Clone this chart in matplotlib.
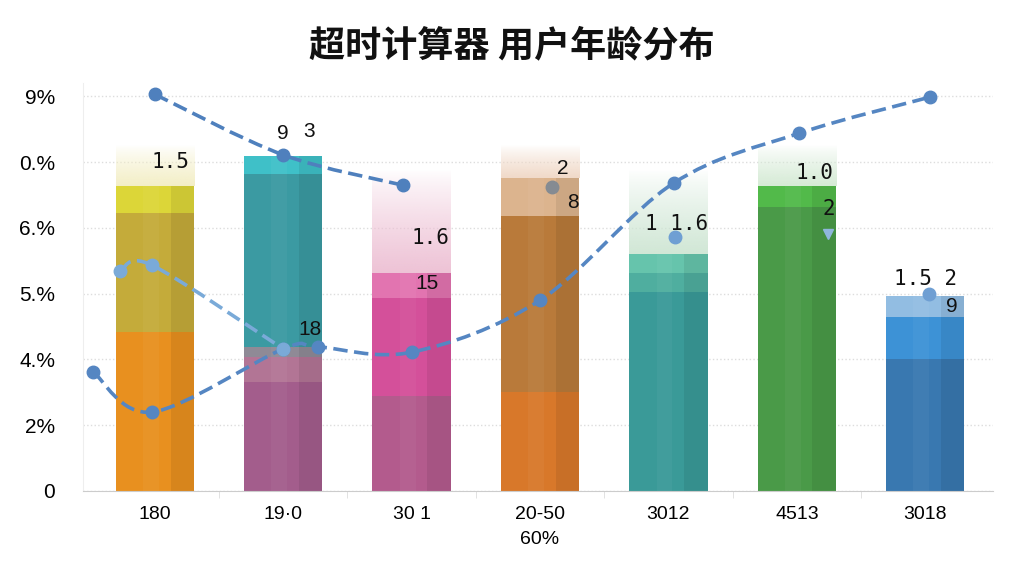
import numpy as np
import matplotlib
matplotlib.use("Agg")
import matplotlib.pyplot as plt
from matplotlib.path import Path
from matplotlib.patches import PathPatch
from matplotlib.colors import to_rgb

plt.rcParams['font.family'] = ['Noto Sans CJK SC', 'DejaVu Sans']

# categories and tick labels
categories = ['180', '19·0', '30 1', '20-50\n60%', '3012', '4513', '3018']
ytick_labels = ['0', '2%', '4.%', '5.%', '6.%', '0.%', '9%']

# stacked segment heights per bar (bottom -> top)
segments = [
    [2.42, 1.81, 0.41],
    [1.66, 0.38, 0.15, 2.63, 0.27],
    [1.45, 1.48, 0.38],
    [1.50, 2.68, 0.58],
    [3.02, 0.30, 0.28],
    [4.32, 0.32],
    [2.00, 0.64, 0.32],
]
# top of the faded cap above each bar
fade_tops = [5.26, 5.09, 4.88, 5.26, 4.88, 5.26, 2.96]

# dashed lines
line_a_x = [0.0, 1.0, 1.93]
line_a_y = [6.03, 5.11, 4.65]
line_b_x = [-0.27, -0.02, 1.0]
line_b_y = [3.34, 3.43, 2.16]
line_c_x = [-0.48, -0.02, 1.0, 1.27, 2.0, 3.0, 4.04, 5.02, 6.04]
line_c_y = [1.81, 1.20, 2.16, 2.19, 2.11, 2.90, 4.68, 5.44, 5.99]

# loose points
extra_x = [3.09, 4.05, 6.03]
extra_y = [4.62, 3.86, 2.99]

# odd value labels
label_text = ['1.5', '9', '3', '18', '1.6', '15', '2', '8', '1 1.6', '1.0', '2', '1.5 2', '9']
label_x = [0.12, 1.0, 1.2, 1.21, 2.15, 2.12, 3.18, 3.26, 4.06, 5.14, 5.25, 6.0, 6.21]
label_y = [5.0, 5.44, 5.47, 2.45, 3.85, 3.16, 4.91, 4.39, 4.06, 4.83, 4.29, 3.22, 2.81]
label_mono = [True, False, False, False, True, False, False, False, True, True, True, True, False]

seg_colors = [
    ['#e8901f', '#c4ab3a', '#dcd638'],
    ['#a35d8c', '#b27595', '#8f8a96', '#3b9aa2', '#3fc0c8'],
    ['#b35b8d', '#d4509a', '#e274b0'],
    ['#d8782a', '#b97a3a', '#dcb48e'],
    ['#3a9a98', '#4fae9f', '#66c4ac'],
    ['#4a9a48', '#52ba4a'],
    ['#3978b0', '#3d92d6', '#92bde2'],
]
fade_colors = ['#f3eec4', '#3fb9c3', '#edc0d4', '#f0d8c6', '#cfe6d4', '#d4ead4', '#92bde2']


def smooth_path(xs, ys):
    pts = np.column_stack([xs, ys])
    n = len(pts)
    verts = [pts[0]]
    codes = [Path.MOVETO]
    for i in range(n - 1):
        p0 = pts[max(i - 1, 0)]
        p1 = pts[i]
        p2 = pts[i + 1]
        p3 = pts[min(i + 2, n - 1)]
        verts += [p1 + (p2 - p0) / 6, p2 - (p3 - p1) / 6, p2]
        codes += [Path.CURVE4] * 3
    return Path(verts, codes)


fig = plt.figure(figsize=(10.24, 5.76), dpi=100)
ax = fig.add_axes([0.081, 0.1476, 0.889, 0.708])

w = 0.61
for i, segs in enumerate(segments):
    bottom = 0
    for h, c in zip(segs, seg_colors[i]):
        ax.bar(i, h, bottom=bottom, width=w, color=c, zorder=2)
        bottom += h
    # darker strip on the right side of each bar
    ax.bar(i + w * 0.35, bottom, width=w * 0.3, color='black', alpha=0.07, zorder=2)
    ax.bar(i - w * 0.05, bottom, width=w * 0.2, color='white', alpha=0.04, zorder=2)
    # faded cap
    if fade_tops[i] > bottom:
        grad = np.zeros((64, 1, 4))
        grad[:, 0, :3] = to_rgb(fade_colors[i])
        grad[:, 0, 3] = np.linspace(0.0, 0.95, 64) ** 0.8
        ax.imshow(grad, extent=(i - w / 2, i + w / 2, bottom, fade_tops[i]),
                  aspect='auto', origin='upper', interpolation='bilinear', zorder=1.5)

for xs, ys, col in [(line_c_x, line_c_y, '#5586c2'),
                    (line_b_x, line_b_y, '#7aaad8'),
                    (line_a_x, line_a_y, '#4f80bd')]:
    ax.add_patch(PathPatch(smooth_path(xs, ys), fill=False, edgecolor=col,
                           lw=2.6, linestyle=(0, (4, 1.8)), zorder=3))
    ax.plot(xs, ys, 'o', color=col, ms=9, zorder=4)

ax.plot(extra_x[:1], extra_y[:1], 'o', color='#858b92', ms=9, zorder=4)
ax.plot(extra_x[1:], extra_y[1:], 'o', color='#6f9fd3', ms=9, zorder=4)
ax.plot([5.24], [3.9], marker='v', color='#8fb6dc', ms=7, zorder=4)

for t, x, y, m in zip(label_text, label_x, label_y, label_mono):
    ax.text(x, y, t, fontsize=15, ha='center', va='center', color='#111111',
            family='DejaVu Sans Mono' if m else ['Liberation Sans'], zorder=5)

ax.set_xlim(-0.56, 6.53)
ax.set_ylim(0, 6.2)
ax.set_yticks(range(7))
ax.set_yticklabels(ytick_labels, fontsize=15, family=['Liberation Sans'])
ax.set_xticks(range(len(categories)))
ax.set_xticklabels(categories, fontsize=14, linespacing=1.6,
                   family=['Liberation Sans', 'Noto Sans CJK SC'])
ax.set_xticks(np.arange(0.5, 6.5, 1), minor=True)
ax.tick_params(axis='x', which='major', length=0, pad=11)
ax.tick_params(axis='x', which='minor', length=5, color='#dddddd')
ax.tick_params(axis='y', length=0, pad=20)
ax.grid(axis='y', color='#dddddd', linestyle=':', lw=1, zorder=0)
ax.set_axisbelow(True)
for s in ['top', 'right']:
    ax.spines[s].set_visible(False)
ax.spines['left'].set_color('#eeeeee')
ax.spines['bottom'].set_color('#cccccc')

fig.text(0.5, 0.92, '超时计算器 用户年龄分布', ha='center', va='center',
         fontsize=26, fontweight='bold', color='#111111')

fig.savefig('out.png', dpi=100)
